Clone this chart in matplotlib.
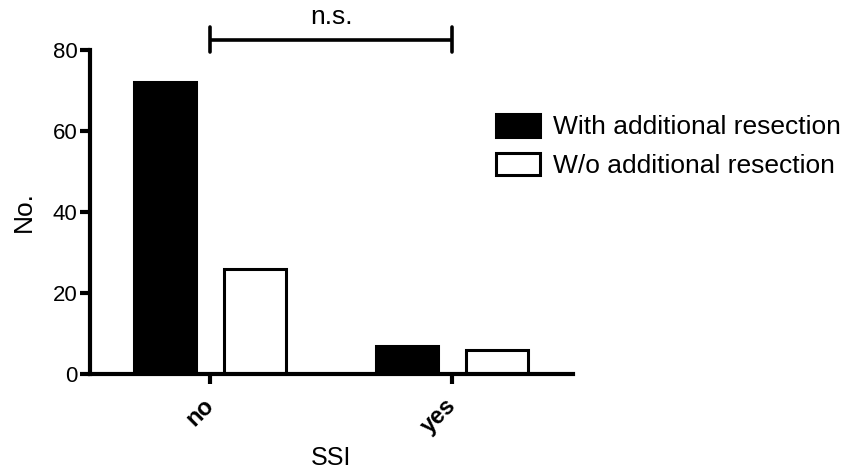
# SSI counts by resection group, Prism-style bar chart

import matplotlib
matplotlib.use("Agg")
import matplotlib.pyplot as plt
import numpy as np

plt.rcParams['font.family'] = ['Liberation Sans', 'DejaVu Sans']

categories = ["no", "yes"]
with_resection = [72, 7]
without_resection = [26, 6]
series_labels = ["With additional resection", "W/o additional resection"]
yticks = [0, 20, 40, 60, 80]

x = np.arange(len(categories))
width = 0.255
offset = 0.186
lw = 2.2

fig = plt.figure(figsize=(8.44, 4.71), dpi=100)
ax = fig.add_axes([0.1066, 0.206, 0.5723, 0.688])

ax.bar(x - offset, with_resection, width, color="black", edgecolor="black",
       linewidth=lw, label=series_labels[0])
ax.bar(x + offset, without_resection, width, color="white", edgecolor="black",
       linewidth=lw, label=series_labels[1])

ax.set_xlim(-0.496, 1.5)
ax.set_ylim(0, 80)
ax.set_yticks(yticks)
ax.set_xticks(x)
ax.set_xticklabels(categories, rotation=45, ha="right", va="center",
                   rotation_mode="anchor", fontweight="bold", fontsize=17)
ax.tick_params(axis="y", labelsize=16, length=7, width=3, pad=2)
ax.tick_params(axis="x", length=7, width=3, pad=13)

for s in ["top", "right"]:
    ax.spines[s].set_visible(False)
for s in ["left", "bottom"]:
    ax.spines[s].set_linewidth(3)

ax.set_xlabel("SSI", fontsize=18, labelpad=6)
ax.set_ylabel("No.", fontsize=19, labelpad=12)

# significance bracket
ax.plot([0, 1], [82.5, 82.5], color="black", lw=2.6, clip_on=False,
        solid_capstyle="butt")
for xb in [0, 1]:
    ax.plot([xb, xb], [79.5, 85.7], color="black", lw=2.6, clip_on=False,
            solid_capstyle="round")
ax.text(0.5, 86.3, "n.s.", ha="center", va="baseline", fontsize=19)

fig.legend(loc="center left", bbox_to_anchor=(0.588, 0.69), frameon=False,
           fontsize=19, handlelength=1.65, handleheight=0.95,
           handletextpad=0.5, labelspacing=0.5, borderpad=0, borderaxespad=0)

fig.savefig("out.png", dpi=100)
